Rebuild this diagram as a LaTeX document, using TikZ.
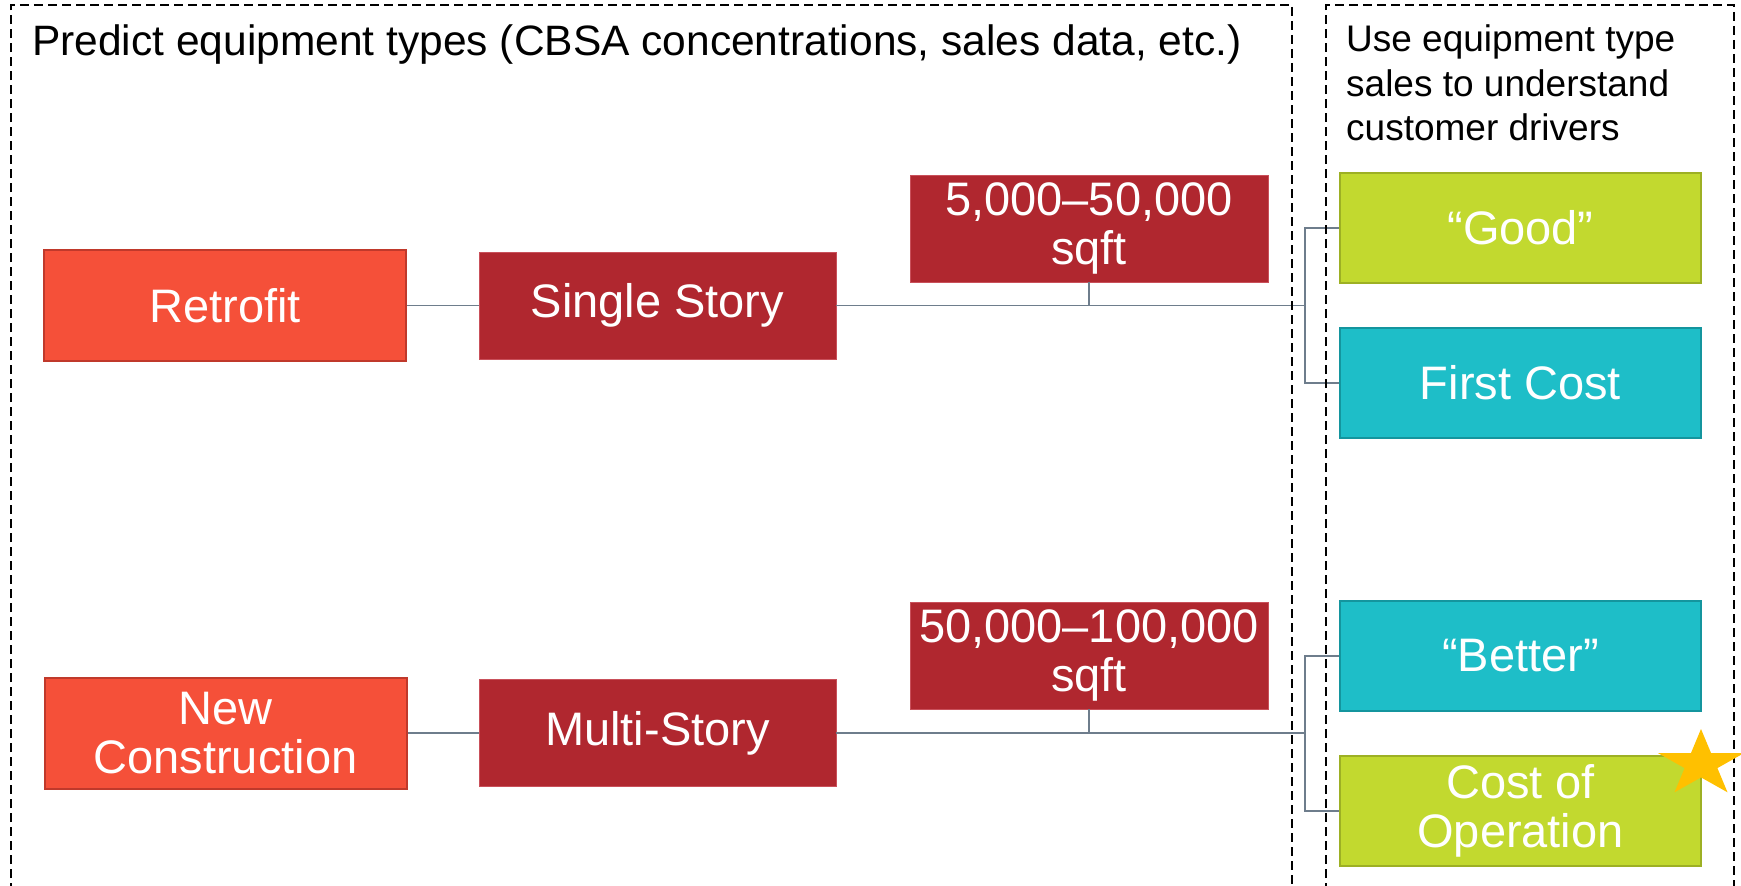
\documentclass[tikz,border=0pt]{standalone}
\usepackage{fontspec}
\setmainfont{Liberation Sans}
\definecolor{retrofill}{HTML}{F55039}
\definecolor{retroline}{HTML}{C0392B}
\definecolor{storyfill}{HTML}{B0272F}
\definecolor{storyline}{HTML}{C9505A}
\definecolor{limefill}{HTML}{C2D92F}
\definecolor{limeline}{HTML}{9DB024}
\definecolor{tealfill}{HTML}{1EBEC8}
\definecolor{tealline}{HTML}{14959E}
\definecolor{connline}{HTML}{6E7D8C}
\definecolor{starfill}{HTML}{FFC000}
\newcommand\boxfont{\fontsize{47}{49}\selectfont}
\newcommand\headfont{\fontsize{42.5}{50}\selectfont}
\newcommand\sidefont{\fontsize{37}{44.5}\selectfont}
\begin{document}
\begin{tikzpicture}[x=1pt, y=-1pt,
  box/.style={rectangle, inner sep=0pt, text=white, align=center, font=\boxfont},
  retrobox/.style={box, fill=retrofill, draw=retroline, line width=2pt, minimum width=362pt, minimum height=111pt},
  storybox/.style={box, fill=storyfill, draw=storyline, line width=0.8pt, minimum width=357pt, minimum height=107pt},
  rangebox/.style={box, fill=storyfill, draw=storyline, line width=0.8pt, minimum width=358pt, minimum height=107pt},
  limebox/.style={box, fill=limefill, draw=limeline, line width=2pt, minimum width=361pt, minimum height=110pt},
  tealbox/.style={box, fill=tealfill, draw=tealline, line width=2pt, minimum width=361pt, minimum height=110pt},
  conn/.style={draw=connline, line width=1.6pt},
  frame/.style={draw=black, line width=2pt, dash pattern=on 9pt off 5pt}
]
\useasboundingbox (0,0) rectangle (1741,886);

% column headings
\node[anchor=base west, font=\headfont, inner sep=0pt] (head) at (32,55)
  {Predict equipment types (CBSA concentrations, sales data, etc.)};
\node[anchor=north west, align=left, font=\sidefont, inner sep=0pt] (side) at (1346,24.5)
  {Use equipment type\\sales to understand\\customer drivers};

% upper row
\node[retrobox] (retro) at (225,305.5) {Retrofit};
\node[storybox] (single) at (657.5,305.5) {Single Story};
\node[rangebox] (small) at (1089,228.5) {5,000--50,000\\sqft};
\node[limebox] (good) at (1520.5,228) {``Good''};
\node[tealbox] (first) at (1520.5,383) {First Cost};

% lower row
\node[retrobox] (newc) at (225.5,733) {New\\Construction};
\node[storybox] (multi) at (657.5,733) {Multi-Story};
\node[rangebox] (large) at (1089,655.5) {50,000--100,000\\sqft};
\node[tealbox] (better) at (1520.5,656) {``Better''};
\node[limebox] (oper) at (1520.5,811) {Cost of\\Operation};

% connectors, upper row
\coordinate (ja) at (1305,305.5);
\draw[conn] (retro.east) -- (single.west);
\draw[conn] (single.east) -- (ja);
\draw[conn] (small.south) -- (small.south |- ja);
\draw[conn] (good.west) -| (ja) |- (first.west);

% connectors, lower row
\coordinate (jb) at (1305,733);
\draw[conn] (newc.east) -- (multi.west);
\draw[conn] (multi.east) -- (jb);
\draw[conn] (large.south) -- (large.south |- jb);
\draw[conn] (better.west) -| (jb) |- (oper.west);

% dashed frames
\draw[frame] (11,892) -- (11,5) -- (1292,5) -- (1292,892);
\draw[frame] (1326,892) -- (1326,5) -- (1734,5) -- (1734,892);

% star marker
\fill[starfill] (1701,729) -- (1711.1,753.2) -- (1743.8,753.2) -- (1717.4,768.1)
  -- (1727.5,792.3) -- (1701,777.4) -- (1674.5,792.3) -- (1684.6,768.1)
  -- (1658.2,753.2) -- (1690.9,753.2) -- cycle;
\end{tikzpicture}
\end{document}
